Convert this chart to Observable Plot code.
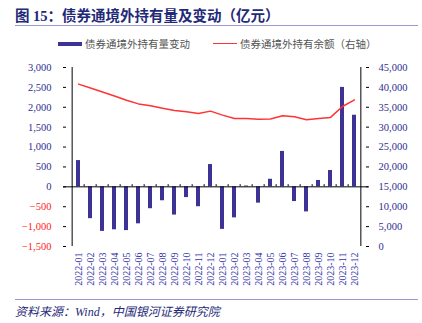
<!DOCTYPE html>
<html><head><meta charset="utf-8">
<script src="https://cdn.jsdelivr.net/npm/d3@7"></script>
<script src="https://cdn.jsdelivr.net/npm/@observablehq/plot@0.6"></script>
<style>
body{margin:0;width:422px;height:323px;position:relative;background:#fff;overflow:hidden;font-family:"Noto Sans CJK SC",sans-serif;}
#title{position:absolute;left:15px;top:4px;font-size:14.5px;font-weight:bold;color:#1f2a78;font-family:"Liberation Serif","Noto Sans CJK SC";white-space:nowrap;}
#tline{position:absolute;left:15px;top:25px;width:403px;border-top:1.5px solid #9c98d2;}
#legend{position:absolute;top:36px;left:0;width:422px;height:16px;font-size:10.5px;color:#555;white-space:nowrap;}
.sw1{position:absolute;left:58px;top:6px;width:24px;height:4px;background:#3d3394;}
.t1{position:absolute;left:85px;top:0;line-height:16px;}
.sw2{position:absolute;left:213px;top:7px;width:24px;height:0;border-top:1.5px solid #ff3333;}
.t2{position:absolute;left:240px;top:0;line-height:16px;}
#chart{position:absolute;left:0;top:55px;}
#chart svg text{font-family:"Liberation Serif","Times New Roman",serif;}
#fline{position:absolute;left:15px;top:299px;width:403px;border-top:1.5px solid #9c98d2;}
#source{position:absolute;left:15px;top:302px;font-size:12px;font-style:italic;color:#1f2a78;font-family:"Liberation Serif","Noto Sans CJK SC";white-space:nowrap;}
</style></head>
<body>
<div id="title">图 15：债券通境外持有量及变动（亿元）</div>
<div id="tline"></div>
<div id="legend"><div class="sw1"></div><div class="t1">债券通境外持有量变动</div><div class="sw2"></div><div class="t2">债券通境外持有余额（右轴）</div></div>
<div id="chart"></div>
<div id="fline"></div>
<div id="source">资料来源：Wind，中国银河证券研究院</div>
<script>
const months = ["2022-01","2022-02","2022-03","2022-04","2022-05","2022-06","2022-07","2022-08","2022-09","2022-10","2022-11","2022-12","2023-01","2023-02","2023-03","2023-04","2023-05","2023-06","2023-07","2023-08","2023-09","2023-10","2023-11","2023-12"];
const change = [660,-800,-1120,-1080,-1100,-930,-550,-350,-710,-270,-500,560,-1070,-780,20,-410,190,890,-370,-630,160,410,2500,1800];
const balance = [40830,39830,38840,37840,36770,35850,35360,34780,34200,33860,33450,34030,33030,32200,32200,31960,32040,32870,32620,31870,32200,32450,35200,36850];
const leftTicks = [-1500,-1000,-500,0,500,1000,1500,2000,2500,3000];
const rightTicks = [0,5000,10000,15000,20000,25000,30000,35000,40000,45000];

const W = 422, H = 240, mL = 63, mR = 54, mT = 12, mB = 49;
const bw = (W - mL - mR) / months.length;
// map right-axis values onto the left-axis domain
const toLeft = v => -1500 + v * 4500 / 45000;
const fromLeft = d => (d + 1500) * 45000 / 4500;
const data = months.map((m, i) => ({m, change: change[i], balance: balance[i], b: toLeft(balance[i])}));
const fmt = d3.format(",");
const axisFont = {fontFamily: "Liberation Serif", fontSize: 10.5};

const chart = Plot.plot({
  width: W, height: H,
  marginLeft: mL, marginRight: mR, marginTop: mT, marginBottom: mB,
  style: {fontFamily: "Liberation Serif", fontSize: "10.5px", background: "transparent"},
  x: {type: "band", domain: months, padding: 0, label: null},
  y: {domain: [-1500, 3000], label: null},
  marks: [
    Plot.barY(data, {x: "m", y: "change", fill: "#3d3394", insetLeft: 4, insetRight: 4}),
    Plot.ruleY([0], {stroke: "#000", strokeWidth: 1}),
    Plot.ruleX(months.slice(1), {x: d => d, y1: 0, y2: 55, dx: -bw / 2, stroke: "#000"}),
    Plot.ruleX([months[0]], {x: d => d, dx: -bw / 2, stroke: "#000"}),
    Plot.ruleX([months[months.length - 1]], {x: d => d, dx: bw / 2, stroke: "#000"}),
    Plot.line(data, {x: "m", y: "b", stroke: "#ff3333", strokeWidth: 1.5}),
    Plot.axisY({anchor: "left", ticks: leftTicks.filter(d => d >= 0), tickSize: -3, tickPadding: 15, tickFormat: fmt, color: "#2e2e8f", stroke: "#000", label: null, ...axisFont}),
    Plot.axisY({anchor: "left", ticks: leftTicks.filter(d => d < 0), tickSize: -3, tickPadding: 15, tickFormat: d => "−" + fmt(-d), color: "#ff1a1a", stroke: "#000", label: null, ...axisFont}),
    Plot.axisY({anchor: "right", ticks: rightTicks.map(toLeft), tickSize: -3, tickPadding: 13, tickFormat: d => fmt(Math.round(fromLeft(d))), color: "#2e2e8f", stroke: "#000", label: null, ...axisFont}),
    Plot.axisX({anchor: "bottom", tickSize: 0, tickPadding: 6, tickRotate: -90, color: "#3333aa", label: null, fontFamily: "Liberation Serif", fontSize: 10})
  ]
});
document.getElementById("chart").appendChild(chart);
</script>
</body></html>
